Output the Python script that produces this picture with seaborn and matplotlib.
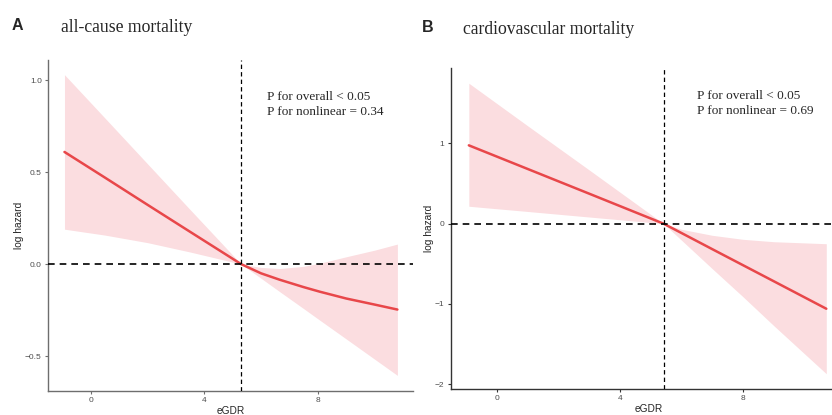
import numpy as np
import pandas as pd
import matplotlib
matplotlib.use("Agg")
import matplotlib.pyplot as plt
import seaborn as sns

# ---- panel A: all-cause mortality ----
a_x = [-0.92, 0.5, 2.0, 3.5, 5.3, 6.0, 6.66, 7.5, 8.07, 9.0, 10.0, 10.8]
a_fit = [0.61, 0.471, 0.323, 0.176, 0.0, -0.05, -0.085, -0.125, -0.15, -0.187, -0.22, -0.247]
a_upper = [1.03, 0.795, 0.546, 0.297, 0.0, -0.018, -0.024, -0.012, 0.005, 0.04, 0.076, 0.109]
a_lower = [0.19, 0.158, 0.117, 0.066, 0.0, -0.077, -0.15, -0.242, -0.305, -0.407, -0.517, -0.605]
a_ref = 5.3
a_text = ["P for overall < 0.05", "P for nonlinear = 0.34"]

# ---- panel B: cardiovascular mortality ----
b_x = [-0.91, 1.0, 3.0, 5.42, 6.0, 7.0, 8.0, 9.0, 10.71]
b_fit = [0.976, 0.682, 0.374, 0.0, -0.116, -0.317, -0.517, -0.717, -1.06]
b_upper = [1.75, 1.22, 0.67, 0.0, -0.07, -0.145, -0.195, -0.225, -0.25]
b_lower = [0.217, 0.152, 0.083, 0.0, -0.205, -0.56, -0.91, -1.27, -1.87]
b_ref = 5.42
b_text = ["P for overall < 0.05", "P for nonlinear = 0.69"]

x_ticks = [0, 4, 8]

sns.set_theme(style="ticks")
plt.rcParams['font.family'] = ['Liberation Sans', 'DejaVu Sans']

line_col = "#e8474a"
band_col = "#fbdde0"
serif = ['Liberation Serif', 'DejaVu Serif']

fig = plt.figure(figsize=(8.32, 4.15), dpi=100)
ax_a = fig.add_axes([0.0577, 0.0578, 0.4387, 0.7976])
ax_b = fig.add_axes([0.5417, 0.0627, 0.4751, 0.7735])


def draw_panel(ax, xs, fit, lo, hi, ref, ylim, yticks, ytick_labels, texts, txt_pos, spine_col):
    df = pd.DataFrame({"eGDR": xs, "fit": fit, "lo": lo, "hi": hi})
    ax.fill_between(df["eGDR"], df["lo"], df["hi"], color=band_col, lw=0, zorder=1)
    sns.lineplot(data=df, x="eGDR", y="fit", ax=ax, color=line_col, lw=1.8, zorder=3)
    ax.axhline(0, color="black", ls=(0, (4, 3)), lw=1.2, zorder=4)
    ax.axvline(ref, color="black", ls=(0, (3.5, 2.5)), lw=0.9, zorder=4)

    ax.set_xlim(-1.5, 11.35)
    ax.set_ylim(*ylim)
    ax.set_xticks(x_ticks)
    ax.set_xticklabels([str(t) for t in x_ticks])
    ax.set_yticks(yticks)
    ax.set_yticklabels(ytick_labels)
    ax.tick_params(labelsize=6, labelcolor="#4d4d4d", length=2.5, width=0.8,
                   color=spine_col, pad=2)
    for s in ["top", "right"]:
        ax.spines[s].set_visible(False)
    for s in ["left", "bottom"]:
        ax.spines[s].set_color(spine_col)
        ax.spines[s].set_linewidth(1.0)
    ax.set_xlabel("eGDR", fontsize=7.3, labelpad=1)
    ax.set_ylabel("log hazard", fontsize=7.3, labelpad=0.5)
    ax.grid(False)

    for t, (tx, ty) in zip(texts, txt_pos):
        ax.text(tx, ty, t, transform=ax.transAxes, family=serif, fontsize=9.5,
                va="center", ha="left")


draw_panel(ax_a, a_x, a_fit, a_lower, a_upper, a_ref, (-0.69, 1.11),
           [-0.5, 0.0, 0.5, 1.0], ["\u22120.5", "0.0", "0.5", "1.0"],
           a_text, [(0.60, 0.888), (0.60, 0.843)], "#6e6e6e")
draw_panel(ax_b, b_x, b_fit, b_lower, b_upper, b_ref, (-2.06, 1.94),
           [-2, -1, 0, 1], ["\u22122", "\u22121", "0", "1"],
           b_text, [(0.6236, 0.913), (0.6236, 0.866)], "#333333")

# panel letters and titles
fig.text(12 / 832, 1 - 26 / 415, "A", fontsize=11.5, fontweight="bold", va="center", ha="left")
fig.text(61 / 832, 1 - 28 / 415, "all-cause mortality", family=serif, fontsize=12.7,
         va="center", ha="left")
fig.text(422 / 832, 1 - 27 / 415, "B", fontsize=11.5, fontweight="bold", va="center", ha="left")
fig.text(463 / 832, 1 - 30 / 415, "cardiovascular mortality", family=serif, fontsize=12.7,
         va="center", ha="left")

fig.savefig("out.png", dpi=100)
